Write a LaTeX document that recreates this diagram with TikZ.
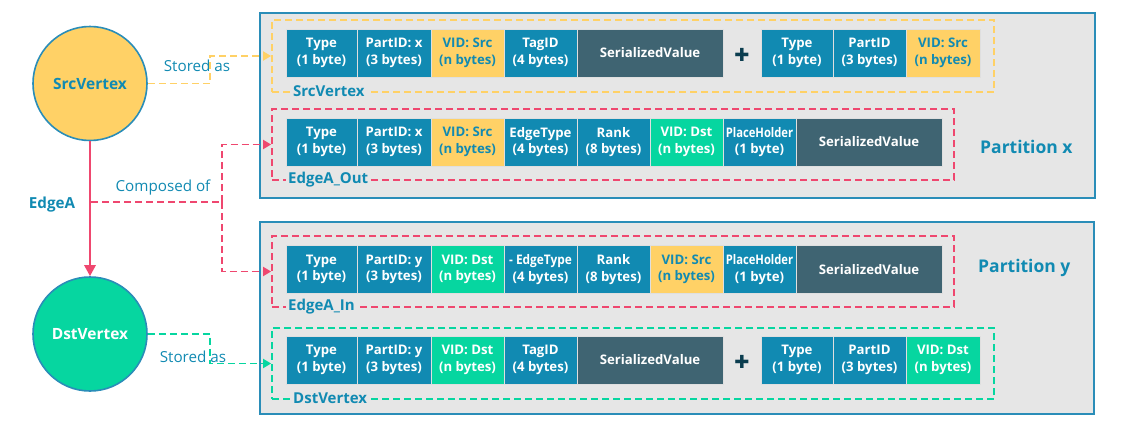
\documentclass[tikz,border=0pt]{standalone}
\usepackage{fontspec}
\setmainfont{Open Sans}
\newfontfamily\symfont{DejaVu Sans}
\usetikzlibrary{arrows.meta}
\definecolor{cblue}{HTML}{118AB2}
\definecolor{cyel}{HTML}{FFD166}
\definecolor{cgreen}{HTML}{06D6A0}
\definecolor{cred}{HTML}{EF476F}
\definecolor{cdark}{HTML}{3F6472}
\definecolor{cnavy}{HTML}{0B3D4F}
\definecolor{cbg}{HTML}{E6E6E6}
\definecolor{cborder}{HTML}{2A8DB8}
\begin{document}
\begin{tikzpicture}[x=1pt,y=-1pt,
  cell/.style={rectangle, draw=white!75!gray, line width=0.9pt, minimum height=48pt, inner sep=0pt, align=center, text=white, font=\fontsize{13.2}{16.5}\selectfont\bfseries},
  bl/.style={cell, fill=cblue},
  ye/.style={cell, fill=cyel, text=cblue},
  gr/.style={cell, fill=cgreen},
  dk/.style={cell, fill=cdark},
  part/.style={rectangle, draw=cborder, line width=1.8pt, fill=cbg, inner sep=0pt},
  dbox/.style={rectangle, dashed, dash pattern=on 7pt off 4pt, line width=1.8pt, inner sep=0pt},
  dlabel/.style={anchor=west, fill=cbg, inner sep=2pt, text=cblue, font=\fontsize{15}{16}\selectfont\bfseries},
  plab/.style={anchor=west, inner sep=0pt, text=cblue, font=\fontsize{17.5}{20}\selectfont\bfseries},
  conn/.style={dashed, dash pattern=on 7pt off 4pt, line width=1.8pt},
  ctext/.style={text=cblue, inner sep=0pt, font=\fontsize{15.2}{16}\selectfont},
  plus/.style={text=cnavy, inner sep=0pt, font=\fontsize{18}{18}\selectfont\symfont},
  vert/.style={circle, minimum size=114pt, inner sep=0pt, draw=cborder, line width=1.6pt, font=\fontsize{15.5}{16}\selectfont\bfseries}
]
\useasboundingbox (0,0) rectangle (1136,434);

% partitions
\node[part, minimum width=835pt, minimum height=185pt] (px) at (677.5,105.5) {};
\node[part, minimum width=834pt, minimum height=192pt] (py) at (677,318) {};
\node[plab] (pxl) at (980,147) {Partition x};
\node[plab] (pyl) at (978,268) {Partition y};

% dashed groups
\node[dbox, draw=cyel, minimum width=722pt, minimum height=72pt] (srcbox) at (633,56) {};
\node[dbox, draw=cred, minimum width=682pt, minimum height=71pt] (outbox) at (613,144.5) {};
\node[dbox, draw=cred, minimum width=682pt, minimum height=71pt] (inbox) at (613,271.5) {};
\node[dbox, draw=cgreen, minimum width=722pt, minimum height=71pt] (dstbox) at (633,363.5) {};

% row 1
\node[bl, minimum width=71pt] (a1) at (321.5,53) {Type\\(1 byte)};
\node[bl, minimum width=74pt] (a2) at (394,53) {PartID: x\\(3 bytes)};
\node[ye, minimum width=73pt] (a3) at (467.5,53) {VID: Src\\(n bytes)};
\node[bl, minimum width=73pt] (a4) at (540.5,53) {TagID\\(4 bytes)};
\node[dk, minimum width=146pt] (a5) at (650,53) {SerializedValue};
\node[plus] (aplus) at (742,55) {✚};
\node[bl, minimum width=72pt] (a6) at (797,53) {Type\\(1 byte)};
\node[bl, minimum width=73pt] (a7) at (869.5,53) {PartID\\(3 bytes)};
\node[ye, minimum width=74pt] (a8) at (943,53) {VID: Src\\(n bytes)};

% row 2
\node[bl, minimum width=71pt] (b1) at (321.5,142) {Type\\(1 byte)};
\node[bl, minimum width=74pt] (b2) at (394,142) {PartID: x\\(3 bytes)};
\node[ye, minimum width=73pt] (b3) at (467.5,142) {VID: Src\\(n bytes)};
\node[bl, minimum width=73pt] (b4) at (540.5,142) {EdgeType\\(4 bytes)};
\node[bl, minimum width=73pt] (b5) at (613.5,142) {Rank\\(8 bytes)};
\node[gr, minimum width=73pt] (b6) at (686.5,142) {VID: Dst\\(n bytes)};
\node[bl, minimum width=73pt] (b7) at (759.5,142) {\scalebox{0.85}[1]{PlaceHolder}\\(1 byte)};
\node[dk, minimum width=146pt] (b8) at (869,142) {SerializedValue};

% row 3
\node[bl, minimum width=71pt] (c1) at (321.5,269.5) {Type\\(1 byte)};
\node[bl, minimum width=74pt] (c2) at (394,269.5) {PartID: y\\(3 bytes)};
\node[gr, minimum width=73pt] (c3) at (467.5,269.5) {VID: Dst\\(n bytes)};
\node[bl, minimum width=73pt] (c4) at (540.5,269.5) {\scalebox{0.9}[1]{- EdgeType}\\(4 bytes)};
\node[bl, minimum width=73pt] (c5) at (613.5,269.5) {Rank\\(8 bytes)};
\node[ye, minimum width=73pt] (c6) at (686.5,269.5) {VID: Src\\(n bytes)};
\node[bl, minimum width=73pt] (c7) at (759.5,269.5) {\scalebox{0.85}[1]{PlaceHolder}\\(1 byte)};
\node[dk, minimum width=146pt] (c8) at (869,269.5) {SerializedValue};

% row 4
\node[bl, minimum width=71pt] (d1) at (321.5,360) {Type\\(1 byte)};
\node[bl, minimum width=74pt] (d2) at (394,360) {PartID: y\\(3 bytes)};
\node[gr, minimum width=73pt] (d3) at (467.5,360) {VID: Dst\\(n bytes)};
\node[bl, minimum width=73pt] (d4) at (540.5,360) {TagID\\(4 bytes)};
\node[dk, minimum width=146pt] (d5) at (650,360) {SerializedValue};
\node[plus] (dplus) at (742,362) {✚};
\node[bl, minimum width=72pt] (d6) at (797,360) {Type\\(1 byte)};
\node[bl, minimum width=73pt] (d7) at (869.5,360) {PartID\\(3 bytes)};
\node[gr, minimum width=74pt] (d8) at (943,360) {VID: Dst\\(n bytes)};

% group labels
\node[dlabel] (srcl) at (291,91.5) {SrcVertex};
\node[dlabel] (outl) at (286,179.5) {EdgeA\_Out};
\node[dlabel] (inl) at (286,306.5) {EdgeA\_In};
\node[dlabel] (dstl) at (291,398.5) {DstVertex};

% vertices
\node[vert, fill=cyel, text=cblue] (src) at (90,83.5) {SrcVertex};
\node[vert, fill=cgreen, text=white] (dst) at (90,334) {DstVertex};
\draw[cred, line width=2.8pt, -{Triangle[length=11pt,width=11pt]}] (src.south) -- (dst.north);
\node[text=cblue, inner sep=0pt, font=\fontsize{15.2}{16}\selectfont\bfseries] (edl) at (52,205) {EdgeA};

% connectors
\coordinate (kx1) at (210,0);
\coordinate (kx2) at (222,0);
\coordinate (ea) at (91,202);
\draw[conn, draw=cyel, -{Triangle[length=8pt,width=9pt]}] (src.east) -- (src.east -| kx1) |- (srcbox.west);
\draw[conn, draw=cgreen, -{Triangle[length=8pt,width=9pt]}] (dst.east) -- (dst.east -| kx1) |- (dstbox.west);
\draw[conn, draw=cred] (ea) -- (ea -| kx2);
\draw[conn, draw=cred, -{Triangle[length=8pt,width=9pt]}] (ea -| kx2) |- (outbox.west);
\draw[conn, draw=cred, -{Triangle[length=8pt,width=9pt]}] (ea -| kx2) |- (inbox.west);
\node[ctext] (st1) at (197,66) {Stored as};
\node[ctext] (st2) at (193,357) {Stored as};
\node[ctext] (cmp) at (163,188) {Composed of};
\end{tikzpicture}
\end{document}
